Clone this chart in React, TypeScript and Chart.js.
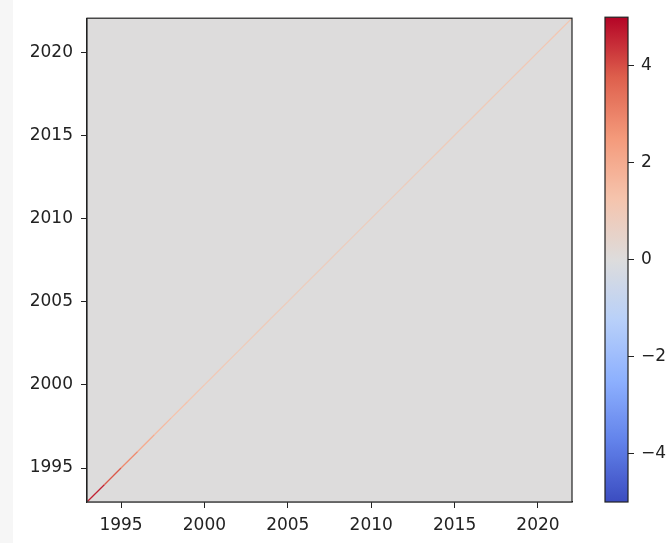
import React, { useEffect, useRef } from "react";
import { Chart, registerables } from "chart.js";

Chart.register(...registerables);

// Years on both axes of the matrix
const years = [
  1993, 1994, 1995, 1996, 1997, 1998, 1999, 2000, 2001, 2002,
  2003, 2004, 2005, 2006, 2007, 2008, 2009, 2010, 2011, 2012,
  2013, 2014, 2015, 2016, 2017, 2018, 2019, 2020, 2021, 2022,
];
// Values along the diagonal (year compared with itself)
const diagonalValues = [
  4.9, 4.3, 3.4, 2.3, 1.7, 1.4, 1.2, 1.1, 1.0, 0.9,
  0.9, 0.9, 0.8, 0.8, 0.8, 0.8, 0.8, 0.8, 0.8, 0.8,
  0.9, 0.9, 0.9, 0.9, 1.0, 1.0, 1.0, 1.1, 1.1, 1.2,
];
// Value everywhere off the diagonal
const offDiagonalValue = 0;

const axisMin = 1992.96;
const axisMax = 2022.04;
const axisTicks = [1995, 2000, 2005, 2010, 2015, 2020];
const colorMin = -5;
const colorMax = 5;
const colorTicks = [-4, -2, 0, 2, 4];

// coolwarm colour map control points
const coolwarmStops: [number, number, number, number][] = [
  [0.0, 59, 76, 192],
  [0.125, 98, 130, 234],
  [0.25, 141, 176, 254],
  [0.375, 184, 208, 249],
  [0.5, 221, 220, 220],
  [0.625, 245, 196, 173],
  [0.75, 244, 154, 123],
  [0.875, 222, 96, 77],
  [1.0, 180, 4, 38],
];

function coolwarm(t: number): string {
  const x = Math.max(0, Math.min(1, t));
  for (let i = 1; i < coolwarmStops.length; i++) {
    const a = coolwarmStops[i - 1];
    const b = coolwarmStops[i];
    if (x <= b[0]) {
      const f = (x - a[0]) / (b[0] - a[0]);
      const r = Math.round(a[1] + (b[1] - a[1]) * f);
      const g = Math.round(a[2] + (b[2] - a[2]) * f);
      const bl = Math.round(a[3] + (b[3] - a[3]) * f);
      return `rgb(${r},${g},${bl})`;
    }
  }
  return "rgb(180,4,38)";
}

const norm = (v: number) => (v - colorMin) / (colorMax - colorMin);

const FONT = { family: "'DejaVu Sans', sans-serif", size: 17 };
const INK = "#222";

const MAIN_W = 600;
const H = 543;
const PLOT = { left: 87, right: 572, top: 17, bottom: 502 };
const BAR_LEFT = 600;
const BAR_W = 67;
const BAR = { left: 605, right: 628 };

export default function App() {
  const mainRef = useRef<HTMLCanvasElement>(null);
  const barRef = useRef<HTMLCanvasElement>(null);

  useEffect(() => {
    const fixedTicks = (values: number[]) => (scale: any) => {
      scale.ticks = values.map((v) => ({ value: v }));
    };

    const matrixBackground = {
      id: "matrixBackground",
      beforeDatasetsDraw(chart: any) {
        const { ctx, chartArea } = chart;
        ctx.save();
        ctx.fillStyle = coolwarm(norm(offDiagonalValue));
        ctx.fillRect(chartArea.left, chartArea.top, chartArea.right - chartArea.left, chartArea.bottom - chartArea.top);
        ctx.restore();
      },
    };

    const frame = {
      id: "frame",
      afterDraw(chart: any) {
        const { ctx, chartArea } = chart;
        ctx.save();
        ctx.strokeStyle = INK;
        ctx.lineWidth = 1.2;
        ctx.strokeRect(chartArea.left, chartArea.top, chartArea.right - chartArea.left, chartArea.bottom - chartArea.top);
        ctx.restore();
      },
    };

    const main = new Chart(mainRef.current!, {
      type: "line",
      data: {
        datasets: [
          {
            data: years.map((y) => ({ x: y, y })),
            borderWidth: 1.3,
            pointRadius: 0,
            tension: 0,
            segment: {
              borderColor: (c: any) =>
                coolwarm(norm((diagonalValues[c.p0DataIndex] + diagonalValues[c.p1DataIndex]) / 2)),
            },
          } as any,
        ],
      },
      options: {
        responsive: false,
        animation: false,
        layout: { padding: { left: 0, top: PLOT.top, right: MAIN_W - PLOT.right, bottom: 0 } },
        plugins: { legend: { display: false }, tooltip: { enabled: false } },
        scales: {
          x: {
            type: "linear",
            min: axisMin,
            max: axisMax,
            afterBuildTicks: fixedTicks(axisTicks),
            afterFit: (s: any) => { s.height = H - PLOT.bottom; },
            grid: { display: true, drawOnChartArea: false, tickLength: 6, color: INK },
            border: { display: true, color: INK, width: 1.2 },
            ticks: { color: INK, font: FONT, padding: 7, maxRotation: 0, callback: (v: any) => String(v) },
          },
          y: {
            type: "linear",
            min: axisMin,
            max: axisMax,
            afterBuildTicks: fixedTicks(axisTicks),
            afterFit: (s: any) => { s.width = PLOT.left; },
            grid: { display: true, drawOnChartArea: false, tickLength: 6, color: INK },
            border: { display: true, color: INK, width: 1.2 },
            ticks: { color: INK, font: FONT, padding: 8, callback: (v: any) => String(v) },
          },
        },
      },
      plugins: [matrixBackground, frame],
    });

    const colorbar = {
      id: "colorbar",
      beforeDatasetsDraw(chart: any) {
        const { ctx, chartArea, scales } = chart;
        const y0 = scales.y.getPixelForValue(colorMin);
        const y1 = scales.y.getPixelForValue(colorMax);
        const grad = ctx.createLinearGradient(0, y0, 0, y1);
        for (let i = 0; i <= 64; i++) grad.addColorStop(i / 64, coolwarm(i / 64));
        ctx.save();
        ctx.fillStyle = grad;
        ctx.fillRect(chartArea.left, y1, chartArea.right - chartArea.left, y0 - y1);
        ctx.strokeStyle = INK;
        ctx.lineWidth = 1.2;
        ctx.strokeRect(chartArea.left, y1, chartArea.right - chartArea.left, y0 - y1);
        ctx.restore();
      },
    };

    const bar = new Chart(barRef.current!, {
      type: "line",
      data: { datasets: [{ data: [] }] },
      options: {
        responsive: false,
        animation: false,
        layout: { padding: { left: BAR.left - BAR_LEFT, top: PLOT.top, right: 0, bottom: H - PLOT.bottom } },
        plugins: { legend: { display: false }, tooltip: { enabled: false } },
        scales: {
          x: { type: "linear", display: false, min: 0, max: 1 },
          y: {
            type: "linear",
            position: "right",
            min: colorMin,
            max: colorMax,
            afterBuildTicks: fixedTicks(colorTicks),
            afterFit: (s: any) => { s.width = BAR_LEFT + BAR_W - BAR.right; },
            grid: { display: true, drawOnChartArea: false, tickLength: 6, color: INK },
            border: { display: false },
            ticks: {
              color: INK,
              font: FONT,
              padding: 7,
              callback: (v: any) => (v < 0 ? "\u2212" + Math.abs(v) : String(v)),
            },
          },
        },
      },
      plugins: [colorbar],
    });

    return () => {
      main.destroy();
      bar.destroy();
    };
  }, []);

  return (
    <div style={{ position: "fixed", left: 0, top: 0, width: 667, height: H, background: "#fff", overflow: "hidden" }}>
      <div style={{ position: "absolute", left: 0, top: 0, width: 13, height: H, background: "#f6f6f6" }} />
      <canvas ref={mainRef} width={MAIN_W} height={H} style={{ position: "absolute", left: 0, top: 0 }} />
      <canvas ref={barRef} width={BAR_W} height={H} style={{ position: "absolute", left: BAR_LEFT, top: 0 }} />
    </div>
  );
}
